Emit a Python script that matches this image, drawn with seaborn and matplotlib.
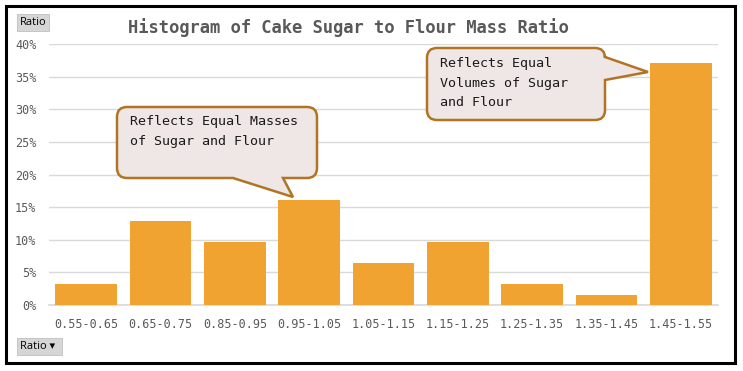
import numpy as np
import pandas as pd
import seaborn as sns
import matplotlib.pyplot as plt
import matplotlib.transforms as mtransforms
from matplotlib.path import Path
from matplotlib.patches import PathPatch, Rectangle
from matplotlib.ticker import PercentFormatter

# data
ratio_bins = ["0.55-0.65", "0.65-0.75", "0.85-0.95", "0.95-1.05", "1.05-1.15",
              "1.15-1.25", "1.25-1.35", "1.35-1.45", "1.45-1.55"]
share = [3.2, 12.9, 9.7, 16.1, 6.45, 9.7, 3.2, 1.6, 37.1]
y_ticks = [0, 5, 10, 15, 20, 25, 30, 35, 40]

df = pd.DataFrame({"Ratio": ratio_bins, "Share": share})

W, H = 743, 371
sns.set_theme(style="white")
plt.rcParams['font.family'] = ['DejaVu Sans Mono', 'DejaVu Sans']

fig = plt.figure(figsize=(W / 100, H / 100), dpi=100)
ax = fig.add_axes([49 / W, 1 - 305 / H, (718 - 49) / W, (305 - 44) / H])

sns.barplot(data=df, x="Ratio", y="Share", color="#F0A330", saturation=1,
            width=0.83, linewidth=0, ax=ax, zorder=3)

ax.set_ylim(0, 40)
ax.set_xlim(-0.5, len(ratio_bins) - 0.5)
ax.set_yticks(y_ticks)
ax.yaxis.set_major_formatter(PercentFormatter(decimals=0))
ax.grid(axis="y", color="#D9D9D9", lw=1, zorder=0)
ax.set_axisbelow(True)
for s in ["top", "right", "left"]:
    ax.spines[s].set_visible(False)
ax.spines["bottom"].set_color("#D9D9D9")
ax.set_xlabel("")
ax.set_ylabel("")
ax.tick_params(axis="both", length=0, labelsize=8.5, labelcolor="#595959")
ax.tick_params(axis="x", pad=9)
ax.tick_params(axis="y", pad=9)

fig.text(348 / W, 1 - 28 / H, "Histogram of Cake Sugar to Flour Mass Ratio",
         ha="center", va="center", fontsize=12.3, fontweight="bold", color="#595959")

# pixel coordinates (y down) -> figure
pix = mtransforms.Affine2D().scale(1, -1).translate(0, H).scale(1 / W, 1 / H) + fig.transFigure


def callout(x0, y0, x1, y1, tail, side, r=10):
    verts, codes = [], []

    def add(p, c=Path.LINETO):
        verts.append(p)
        codes.append(c)

    add((x0 + r, y0), Path.MOVETO)
    add((x1 - r, y0))
    add((x1, y0), Path.CURVE3); add((x1, y0 + r), Path.CURVE3)
    if side == "right":
        for p in tail:
            add(p)
    add((x1, y1 - r))
    add((x1, y1), Path.CURVE3); add((x1 - r, y1), Path.CURVE3)
    if side == "bottom":
        for p in tail:
            add(p)
    add((x0 + r, y1))
    add((x0, y1), Path.CURVE3); add((x0, y1 - r), Path.CURVE3)
    add((x0, y0 + r))
    add((x0, y0), Path.CURVE3); add((x0 + r, y0), Path.CURVE3)
    add((x0 + r, y0), Path.CLOSEPOLY)
    patch = PathPatch(Path(verts, codes), transform=pix, facecolor="#EFE7E5",
                      edgecolor="#B07424", lw=1.8, zorder=10)
    fig.add_artist(patch)


callout(117, 107, 317, 178, [(283, 178), (293, 197), (233, 178)], "bottom")
fig.text(130 / W, 1 - 115 / H, "Reflects Equal Masses\nof Sugar and Flour",
         ha="left", va="top", fontsize=9.6, color="#1a1a1a", linespacing=1.65, zorder=11)

callout(427, 48, 605, 120, [(605, 57), (648, 72), (605, 80)], "right")
fig.text(440 / W, 1 - 57 / H, "Reflects Equal\nVolumes of Sugar\nand Flour",
         ha="left", va="top", fontsize=9.6, color="#1a1a1a", linespacing=1.65, zorder=11)

# field buttons
for (bx, by, bw, bh, label) in [(17, 14, 32, 17, "Ratio"), (17, 338, 45, 17, "Ratio \u25BE")]:
    fig.add_artist(Rectangle((bx, by), bw, bh, transform=pix, facecolor="#D6D6D6",
                             edgecolor="#C0C0C0", lw=0.6, zorder=10))
    fig.text((bx + 2.5) / W, 1 - (by + bh / 2) / H, label, ha="left", va="center",
             fontsize=8, color="black", family=["Open Sans", "DejaVu Sans"], zorder=11)

# outer frame
fig.add_artist(Rectangle((5.5, 5.5), 729, 357, transform=pix, facecolor="none",
                         edgecolor="black", lw=2.2, zorder=20))

fig.savefig("out.png", dpi=100)
